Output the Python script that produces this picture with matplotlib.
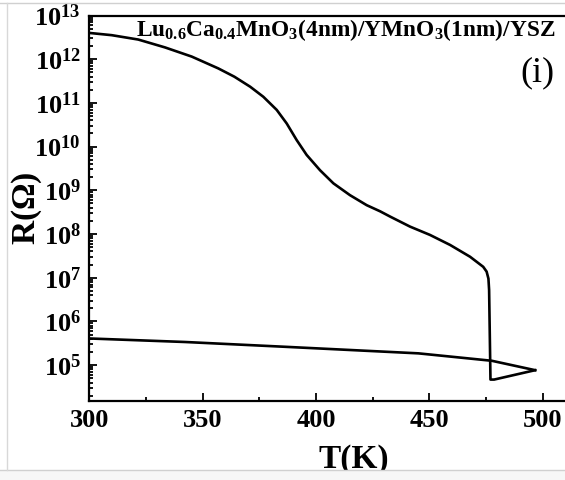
import numpy as np
import matplotlib.pyplot as plt
from matplotlib.patches import Rectangle
from matplotlib.lines import Line2D
from matplotlib.ticker import LogLocator, FixedLocator, MultipleLocator

plt.rcParams['font.family'] = ['Liberation Serif', 'DejaVu Serif']
plt.rcParams['mathtext.fontset'] = 'custom'
plt.rcParams['mathtext.rm'] = 'Liberation Serif:bold'
plt.rcParams['mathtext.it'] = 'Liberation Serif:bold'
plt.rcParams['mathtext.bf'] = 'Liberation Serif:bold'

# heating branch (T in K, log10 R)
T_up = [300.3, 309.9, 321.6, 333.4, 345.2, 356.9, 364.0, 371.0, 376.8, 382.7,
        387.1, 391.5, 395.9, 401.8, 407.7, 415.0, 422.4, 428.3, 432.7, 441.5,
        450.3, 459.2, 468.0, 473.8, 475.3, 476.1, 476.4, 477.0, 478.6, 496.7]
logR_up = [12.60, 12.55, 12.45, 12.27, 12.06, 11.79, 11.60, 11.37, 11.14, 10.84,
           10.53, 10.15, 9.81, 9.46, 9.16, 8.89, 8.66, 8.52, 8.40, 8.17,
           7.98, 7.75, 7.48, 7.25, 7.14, 6.98, 6.72, 4.67, 4.67, 4.885]
# cooling branch
T_down = [496.7, 477.6, 445.2, 386.4, 342.2, 300.3]
logR_down = [4.885, 5.10, 5.27, 5.42, 5.53, 5.61]

xticks = [300, 350, 400, 450, 500]
ydecades = list(range(5, 14))

fig = plt.figure(figsize=(5.65, 4.8), dpi=100)
ax = fig.add_axes([0.158, 0.1646, 0.8826, 0.8031])

R_up = 10 ** np.array(logR_up)
R_down = 10 ** np.array(logR_down)
ax.plot(T_up, R_up, color='black', lw=1.9, solid_joinstyle='round')
ax.plot(T_down, R_down, color='black', lw=1.9, solid_joinstyle='round')

ax.set_yscale('log')
ax.set_xlim(300, 520)
ax.set_ylim(10 ** 4.18, 1e13)

ax.xaxis.set_major_locator(FixedLocator(xticks))
ax.xaxis.set_minor_locator(MultipleLocator(25))
ax.yaxis.set_major_locator(FixedLocator([10.0 ** e for e in ydecades]))
ax.yaxis.set_minor_locator(LogLocator(base=10, subs=np.arange(2, 10), numticks=30))
ax.set_yticklabels([r'$10^{%d}$' % e for e in ydecades])
ax.set_xticklabels([str(t) for t in xticks], fontweight='bold')

ax.tick_params(which='both', direction='in', labelsize=19, width=1.3,
               top=False, right=False)
ax.tick_params(which='major', length=6, pad=6)
ax.tick_params(which='minor', length=3)
for s in ax.spines.values():
    s.set_linewidth(1.6)

ax.set_xlabel('T(K)', fontsize=24, fontweight='bold', va='top')
ax.xaxis.set_label_coords(0.531, -0.112)
ax.set_ylabel(r'R($\Omega$)', fontsize=24, fontweight='bold')
ax.yaxis.set_label_coords(-0.09, 0.5)

fig.text(0.612, 0.937, r'Lu$_{0.6}$Ca$_{0.4}$MnO$_3$(4nm)/YMnO$_3$(1nm)/YSZ',
         fontsize=16.8, fontweight='bold', ha='center', va='center')
fig.text(0.982, 0.848, '(i)', fontsize=26, ha='right', va='center')

# screenshot frame
fig.add_artist(Rectangle((0, 0), 1, 10 / 480, transform=fig.transFigure,
                         facecolor='#f7f7f7', edgecolor='none', zorder=10))
fig.add_artist(Line2D([0, 1], [10 / 480, 10 / 480], transform=fig.transFigure,
                      color='#d0d0d0', lw=1, zorder=11))
fig.add_artist(Line2D([0, 1], [477 / 480, 477 / 480], transform=fig.transFigure,
                      color='#d0d0d0', lw=1, zorder=11))
fig.add_artist(Line2D([7 / 565, 7 / 565], [10 / 480, 477 / 480], transform=fig.transFigure,
                      color='#d8d8d8', lw=1, zorder=11))

fig.savefig('out.png', dpi=100)
